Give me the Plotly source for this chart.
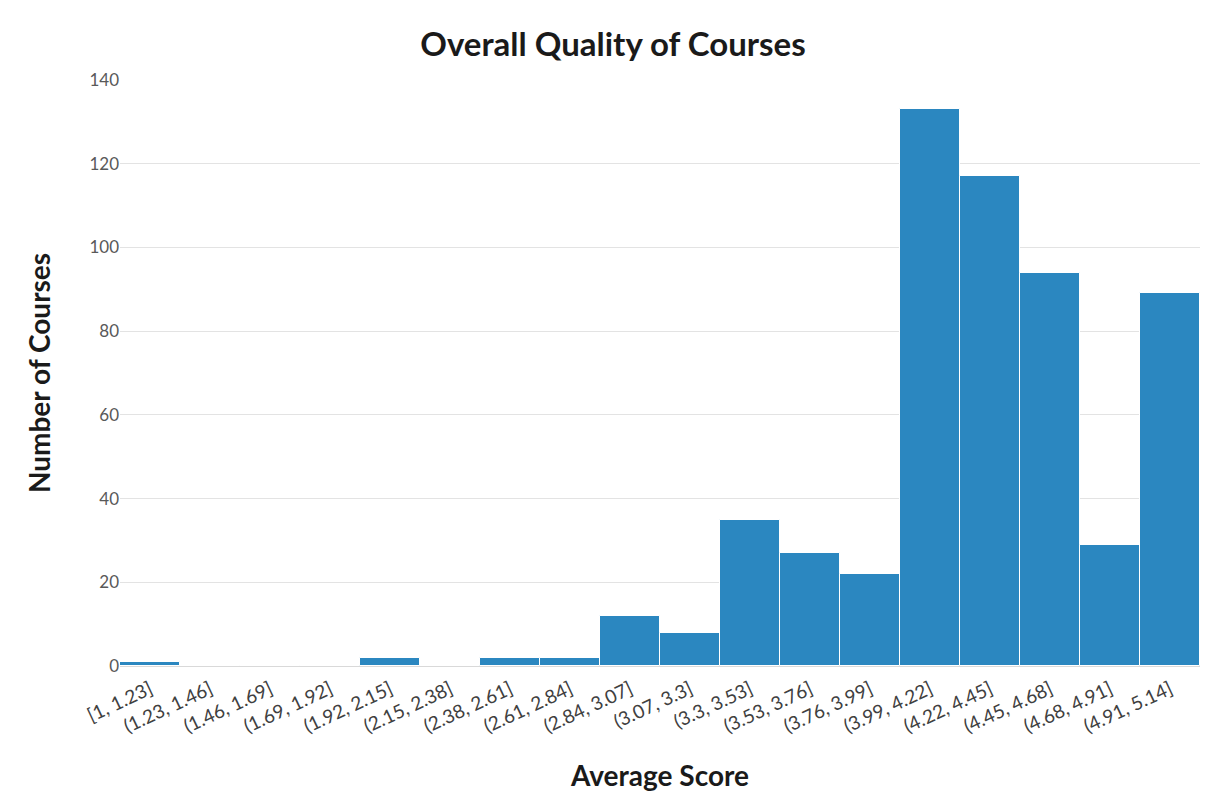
import plotly.graph_objects as go

# bins and counts
bins = ['[1, 1.23]', '(1.23, 1.46]', '(1.46, 1.69]', '(1.69, 1.92]', '(1.92, 2.15]',
        '(2.15, 2.38]', '(2.38, 2.61]', '(2.61, 2.84]', '(2.84, 3.07]', '(3.07, 3.3]',
        '(3.3, 3.53]', '(3.53, 3.76]', '(3.76, 3.99]', '(3.99, 4.22]', '(4.22, 4.45]',
        '(4.45, 4.68]', '(4.68, 4.91]', '(4.91, 5.14]']
counts = [1, 0, 0, 0, 2, 0, 2, 2, 12, 8, 35, 27, 22, 133, 117, 94, 29, 89]
y_ticks = [0, 20, 40, 60, 80, 100, 120, 140]

font_family = "Lato, 'Open Sans', sans-serif"

fig = go.Figure()
fig.add_trace(go.Bar(x=bins, y=counts, marker=dict(color='#2b87c0', line=dict(color='white', width=1)),
                     hoverinfo='x+y'))

fig.update_layout(
    width=1210, height=805,
    paper_bgcolor='white', plot_bgcolor='white',
    bargap=0,
    margin=dict(l=112, r=18, t=72, b=147),
    font=dict(family=font_family, color='#595959', size=17),
    title=dict(text="<b>Overall Quality of Courses</b>", x=0.5, xanchor='center',
               yref='container', y=0.955, yanchor='middle',
               font=dict(size=33, color='#1a1a1a', family=font_family)),
    showlegend=False,
)
fig.update_xaxes(
    tickangle=-25, showgrid=False, showline=False, ticks='',
    tickfont=dict(size=19, color='#404040'), ticklabelstandoff=8,
    title=dict(text="<b>Average Score</b>", font=dict(size=28, color='#1a1a1a'), standoff=30),
)
fig.update_yaxes(
    range=[0, 140], tickvals=y_ticks, showgrid=True, gridcolor='#e3e3e3', zeroline=True,
    zerolinecolor='#d9d9d9', tickfont=dict(size=17, color='#595959'), ticks='',
    title=dict(text="<b>Number of Courses</b>", font=dict(size=28, color='#1a1a1a'), standoff=30),
)

fig.write_html("out.html")
